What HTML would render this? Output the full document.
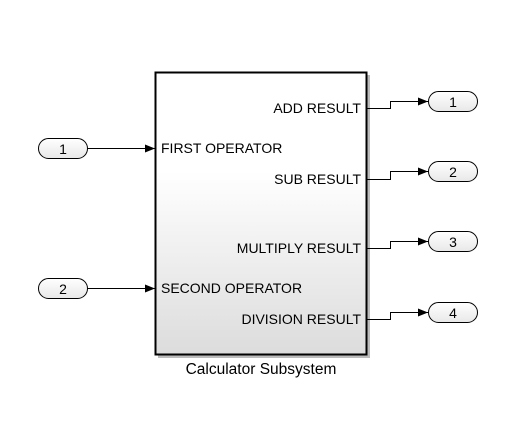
<!DOCTYPE html>
<html><head><style>body{margin:0;background:#fff}</style></head><body>
<svg width="527" height="420" xmlns="http://www.w3.org/2000/svg" font-family="Liberation Sans, Arial, sans-serif">
<defs>
<linearGradient id="g" x1="0" y1="0" x2="0" y2="1">
<stop offset="0" stop-color="#fff"/><stop offset="0.35" stop-color="#fff"/><stop offset="1" stop-color="#dcdcdc"/></linearGradient>
<linearGradient id="p" x1="0" y1="0" x2="0" y2="1"><stop offset="0" stop-color="#fff"/><stop offset="1" stop-color="#e8e8e8"/></linearGradient>
<marker id="a" markerWidth="10" markerHeight="8" refX="10" refY="4" orient="auto" markerUnits="userSpaceOnUse"><path d="M0,0 L10,4 L0,8z" fill="#000"/></marker>
</defs>
<rect x="158" y="75" width="212" height="283" fill="#bbb"/>
<rect x="155.5" y="72.5" width="211" height="282" fill="url(#g)" stroke="#000" stroke-width="2"/>
<g font-size="14" fill="#000">
<text x="161" y="153">FIRST OPERATOR</text>
<text x="161" y="293">SECOND OPERATOR</text>
<text x="361" y="113" text-anchor="end">ADD RESULT</text>
<text x="361" y="184" text-anchor="end">SUB RESULT</text>
<text x="361" y="253" text-anchor="end">MULTIPLY RESULT</text>
<text x="361" y="324" text-anchor="end">DIVISION RESULT</text>
<text x="261" y="374" text-anchor="middle" font-size="15.5">Calculator Subsystem</text>
</g>
<g stroke="#000" stroke-width="1" fill="none">
<path d="M87,148.5 H155" marker-end="url(#a)"/>
<path d="M87,288.5 H155" marker-end="url(#a)"/>
<path d="M367,108.5 H390.5 V101.5 H428" marker-end="url(#a)"/>
<path d="M367,179.5 H390.5 V171.5 H428" marker-end="url(#a)"/>
<path d="M367,248.5 H390.5 V241.5 H428" marker-end="url(#a)"/>
<path d="M367,319.5 H390.5 V312.5 H428" marker-end="url(#a)"/>
</g>
<g stroke="#000" stroke-width="1" fill="url(#p)">
<rect x="38.5" y="138.5" width="49" height="20" rx="10"/>
<rect x="38.5" y="278.5" width="49" height="20" rx="10"/>
<rect x="428.5" y="91.5" width="49" height="20" rx="10"/>
<rect x="428.5" y="161.5" width="49" height="20" rx="10"/>
<rect x="428.5" y="231.5" width="49" height="20" rx="10"/>
<rect x="428.5" y="302.5" width="49" height="20" rx="10"/>
</g>
<g font-size="14" text-anchor="middle">
<text x="63" y="154">1</text><text x="63" y="294">2</text>
<text x="453" y="107">1</text><text x="453" y="177">2</text>
<text x="453" y="247">3</text><text x="453" y="318">4</text>
</g>
</svg>
</body></html>
